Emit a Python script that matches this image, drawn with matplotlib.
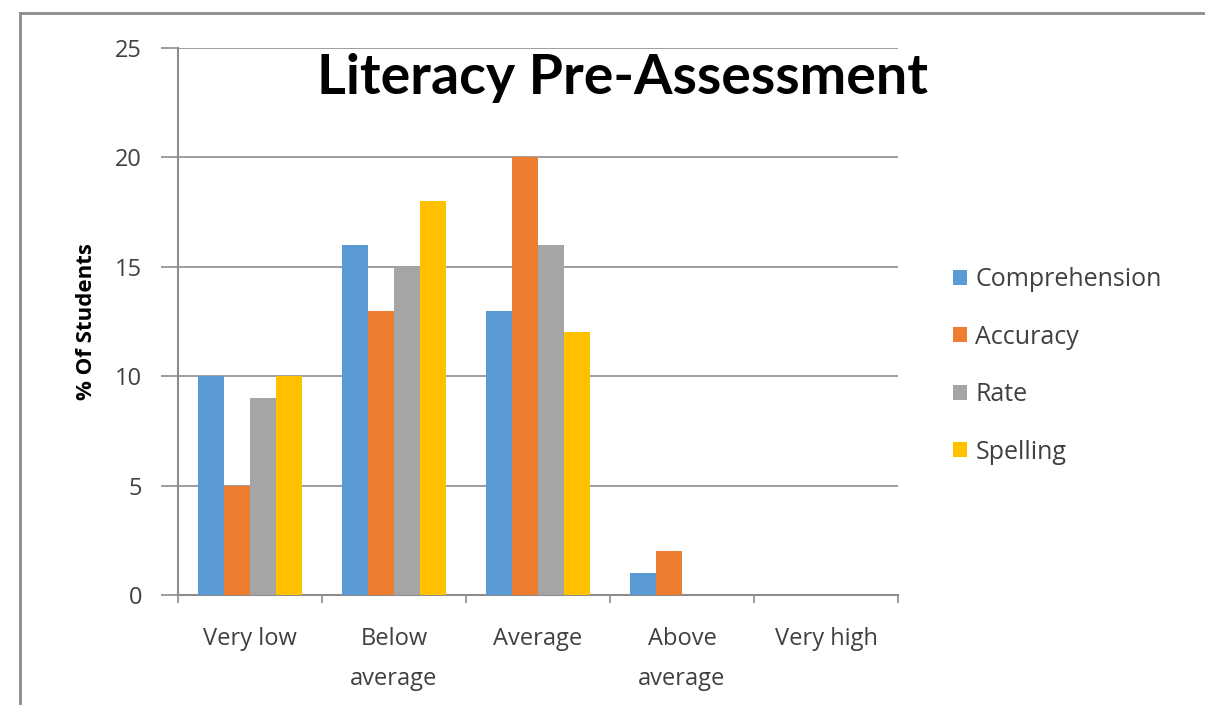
import numpy as np
import matplotlib.pyplot as plt
from matplotlib.lines import Line2D

categories = ['Very low', 'Below\naverage', 'Average', 'Above\naverage', 'Very high']
series_names = ['Comprehension', 'Accuracy', 'Rate', 'Spelling']
comprehension = [10, 16, 13, 1, 0]
accuracy = [5, 13, 20, 2, 0]
rate = [9, 15, 16, 0, 0]
spelling = [10, 18, 12, 0, 0]
colors = ['#5B9BD5', '#ED7D31', '#A5A5A5', '#FFC000']

plt.rcParams['font.family'] = ['Open Sans', 'DejaVu Sans']

fig = plt.figure(figsize=(12.05, 7.05), dpi=100)
ax = fig.add_axes([178 / 1205, 1 - 595 / 705, 720 / 1205, 547 / 705])

x = np.arange(len(categories))
w = 0.18
for i, vals in enumerate([comprehension, accuracy, rate, spelling]):
    ax.bar(x + (i - 1.5) * w, vals, width=w, color=colors[i], label=series_names[i], zorder=3)

ax.set_xlim(-0.5, len(categories) - 0.5)
ax.set_ylim(0, 25)
ax.set_yticks([0, 5, 10, 15, 20, 25])
ax.yaxis.grid(True, color='#8C8C8C', linewidth=1.2, zorder=0)
ax.set_axisbelow(True)

# ticks sit on the category boundaries, labels in the middle
ax.set_xticks(np.arange(-0.5, len(categories), 1.0))
ax.set_xticklabels([])
ax.set_xticks(x, minor=True)
ax.set_xticklabels(categories, minor=True, fontsize=17, color='#404040', linespacing=1.9)
ax.tick_params(axis='x', which='minor', length=0, pad=23)
ax.tick_params(axis='x', which='major', length=6, color='#8C8C8C', width=1.2)
ax.tick_params(axis='y', length=12, color='#8C8C8C', width=1.2, labelsize=17,
               labelcolor='#404040', pad=14)

for s in ['top', 'right']:
    ax.spines[s].set_visible(False)
for s in ['left', 'bottom']:
    ax.spines[s].set_color('#8C8C8C')
    ax.spines[s].set_linewidth(1.5)

ax.set_ylabel('% Of Students', fontsize=16, fontweight='bold')
ax.yaxis.set_label_coords(-0.112, 0.5)

fig.text(622 / 1205, 1 - 78 / 705, 'Literacy Pre-Assessment', fontsize=40,
         fontweight='bold', ha='center', va='center', color='#000000',
         family=['Lato', 'DejaVu Sans'])

ax.legend(loc='center left', bbox_to_anchor=(1.045, 0.419), frameon=False,
          fontsize=18, handlelength=0.55, handleheight=0.55, handletextpad=0.35,
          labelspacing=1.3, labelcolor='#404040')

# chart border
fig.add_artist(Line2D([20 / 1205, 1.0], [1 - 13 / 705] * 2, color='#8C8C8C', lw=2))
fig.add_artist(Line2D([20 / 1205] * 2, [0, 1 - 13 / 705], color='#8C8C8C', lw=2))

fig.savefig('out.png', dpi=100)
